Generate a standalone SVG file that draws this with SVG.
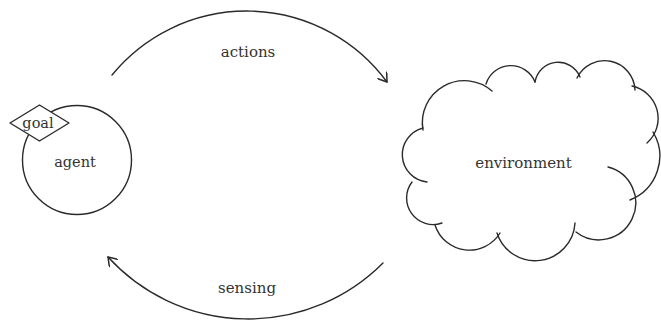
<svg xmlns="http://www.w3.org/2000/svg" width="661" height="320" viewBox="0 0 661 320">
  <defs>
    <marker id="open-arrow" viewBox="-10 -6 12 12" refX="0" refY="0" markerWidth="12" markerHeight="12" markerUnits="userSpaceOnUse" orient="auto">
      <path d="M-8,-5.5 L0,0 L-8,5.5" fill="none" stroke="#2a2a2a" stroke-width="1.5" stroke-linecap="round" stroke-linejoin="round"/>
    </marker>
  </defs>
  <style>
    .line { fill: none; stroke: #2a2a2a; stroke-width: 1.4; stroke-linecap: round; }
    .shape { fill: #ffffff; stroke: #2a2a2a; stroke-width: 1.4; stroke-linejoin: round; }
    .label { font-family: "DejaVu Serif", "Liberation Serif", serif; font-size: 15px; fill: #333333; text-anchor: middle; }
  </style>
  <rect width="661" height="320" fill="#ffffff"/>

  <g id="connectors">
    <path id="actions-arc" class="line" d="M112,75 A174,174 0 0 1 387,82" marker-end="url(#open-arrow)"/>
    <path id="sensing-arc" class="line" d="M383,263 A190,190 0 0 1 108,257" marker-end="url(#open-arrow)"/>
    <text class="label" x="248" y="57">actions</text>
    <text class="label" x="247" y="293">sensing</text>
  </g>

  <g id="agent">
    <circle class="shape" cx="77" cy="160" r="54.5"/>
    <text class="label" x="75" y="167" style="font-size:14.5px">agent</text>
  </g>

  <g id="goal">
    <polygon class="shape" points="10,123 39.5,105 69,123 39.5,141"/>
    <text class="label" x="38" y="128" style="font-size:14.5px">goal</text>
  </g>

  <g id="environment">
    <!-- cloud outline: one arc per bump, clockwise from the left side -->
    <path class="line" d="M427,182 A27.5,27.5 0 0 1 423,128"/>
    <path class="line" d="M423,130 A42,42 0 0 1 492,91"/>
    <path class="line" d="M486,84 A26,26 0 0 1 535,82"/>
    <path class="line" d="M535,82 A23.5,23.5 0 0 1 580,77"/>
    <path class="line" d="M577,78 A30.5,30.5 0 0 1 635,90"/>
    <path class="line" d="M632,86 A33,33 0 0 1 647,143"/>
    <path class="line" d="M653,132 A47,47 0 0 1 630,200"/>
    <path class="line" d="M608,167 A37,37 0 1 1 576,232"/>
    <path class="line" d="M575,223 A40,40 0 0 1 497,233"/>
    <path class="line" d="M500,233 A36,36 0 0 1 435,225"/>
    <path class="line" d="M442,223 A26.5,26.5 0 0 1 412,182"/>
    <text class="label" x="523.5" y="168">environment</text>
  </g>
</svg>
